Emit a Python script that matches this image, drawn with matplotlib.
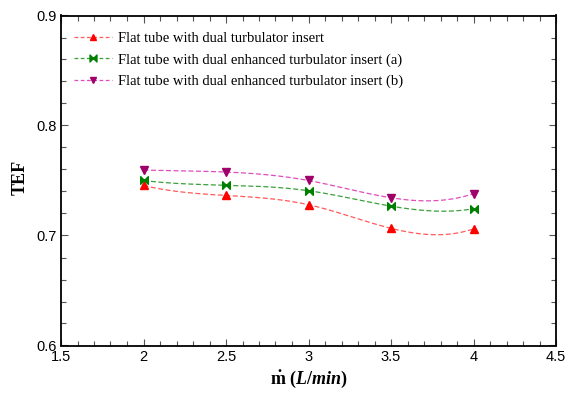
import numpy as np
import matplotlib
matplotlib.use('Agg')
import matplotlib.pyplot as plt
from matplotlib.path import Path
from matplotlib.ticker import MultipleLocator

flow_rate = [2.0, 2.5, 3.0, 3.5, 4.0]
tef_dual = [0.7455, 0.7364, 0.728, 0.7065, 0.706]
tef_enh_a = [0.750, 0.7457, 0.7407, 0.7267, 0.7243]
tef_enh_b = [0.7595, 0.7577, 0.750, 0.7343, 0.738]

labels = ['Flat tube with dual turbulator insert',
          'Flat tube with dual enhanced turbulator insert (a)',
          'Flat tube with dual enhanced turbulator insert (b)']


def spline_curve(x, y, n=200):
    # not-a-knot cubic spline, only used to draw the smooth line
    x = np.asarray(x, float)
    y = np.asarray(y, float)
    k = len(x)
    h = np.diff(x)
    A = np.zeros((k, k))
    b = np.zeros(k)
    A[0, :3] = [h[1], -(h[0] + h[1]), h[0]]
    A[-1, -3:] = [h[-1], -(h[-2] + h[-1]), h[-2]]
    for i in range(1, k - 1):
        A[i, i - 1] = h[i - 1]
        A[i, i] = 2 * (h[i - 1] + h[i])
        A[i, i + 1] = h[i]
        b[i] = 3 * ((y[i + 1] - y[i]) / h[i] - (y[i] - y[i - 1]) / h[i - 1])
    c = np.linalg.solve(A, b)
    xs = np.linspace(x[0], x[-1], n)
    idx = np.clip(np.searchsorted(x, xs) - 1, 0, k - 2)
    dx = xs - x[idx]
    bb = (y[idx + 1] - y[idx]) / h[idx] - h[idx] * (2 * c[idx] + c[idx + 1]) / 3
    dd = (c[idx + 1] - c[idx]) / (3 * h[idx])
    return xs, y[idx] + bb * dx + c[idx] * dx ** 2 + dd * dx ** 3


# bowtie marker: two triangles meeting in the middle
bowtie = Path([(-1, -1), (-1, 1), (0, 0), (-1, -1),
               (1, -1), (1, 1), (0, 0), (1, -1)],
              [Path.MOVETO, Path.LINETO, Path.LINETO, Path.CLOSEPOLY,
               Path.MOVETO, Path.LINETO, Path.LINETO, Path.CLOSEPOLY])

series = [
    (tef_dual, '#ff5a5a', '^', 'red', labels[0]),
    (tef_enh_a, '#3aa03a', bowtie, 'green', labels[1]),
    (tef_enh_b, '#e04cc0', 'v', '#a0006a', labels[2]),
]

plt.rcParams['mathtext.fontset'] = 'custom'
plt.rcParams['mathtext.rm'] = 'Liberation Serif:bold'
plt.rcParams['mathtext.it'] = 'Liberation Serif:bold:italic'
plt.rcParams['mathtext.bf'] = 'Liberation Serif:bold'

fig = plt.figure(figsize=(5.66, 3.93), dpi=100)
ax = fig.add_axes([61 / 566, 1 - 345.5 / 393, 495 / 566, 330 / 393])

handles = []
for vals, lcolor, marker, mcolor, lab in series:
    xs, ys = spline_curve(flow_rate, vals)
    ax.plot(xs, ys, '--', color=lcolor, lw=0.9, dashes=(4, 2))
    ax.plot(flow_rate, vals, ls='none', marker=marker, color=mcolor,
            markersize=5.5)
    h, = ax.plot([], [], '--', color=lcolor, lw=0.9, dashes=(3, 2),
                 marker=marker, markerfacecolor=mcolor,
                 markeredgecolor=mcolor, markersize=5, label=lab)
    handles.append(h)

ax.set_xlim(1.5, 4.5)
ax.set_ylim(0.6, 0.9)
ax.xaxis.set_minor_locator(MultipleLocator(0.1))
ax.yaxis.set_minor_locator(MultipleLocator(0.02))
ax.set_xticks([1.5, 2, 2.5, 3, 3.5, 4, 4.5])
ax.set_xticklabels(['1.5', '2', '2.5', '3', '3.5', '4', '4.5'])
ax.set_yticks([0.6, 0.7, 0.8, 0.9])
ax.set_yticklabels(['0.6', '0.7', '0.8', '0.9'])
ax.tick_params(which='both', direction='in', top=True, right=True,
               labelsize=10.5, width=0.8, color='#555555', pad=3)
ax.tick_params(which='major', length=5)
ax.tick_params(which='minor', length=3.5)
for lbl in ax.get_xticklabels() + ax.get_yticklabels():
    lbl.set_fontfamily('Liberation Sans')
for sp in ax.spines.values():
    sp.set_linewidth(1.3)

ax.set_ylabel('TEF', fontfamily='Liberation Serif', fontweight='bold',
              fontsize=13)
ax.yaxis.set_label_coords(-0.066, 0.51)
ax.set_xlabel(r'$\dot{\mathrm{m}}\ (\mathit{L/min})$', fontsize=13,
              labelpad=4)

ax.legend(handles=handles, loc='upper left', frameon=False,
          prop={'family': 'Liberation Serif', 'size': 10.5},
          handlelength=2.6, handletextpad=0.4, labelspacing=0.55,
          borderaxespad=0.5, bbox_to_anchor=(0.0, 0.99))

fig.savefig('out.png', dpi=100)
